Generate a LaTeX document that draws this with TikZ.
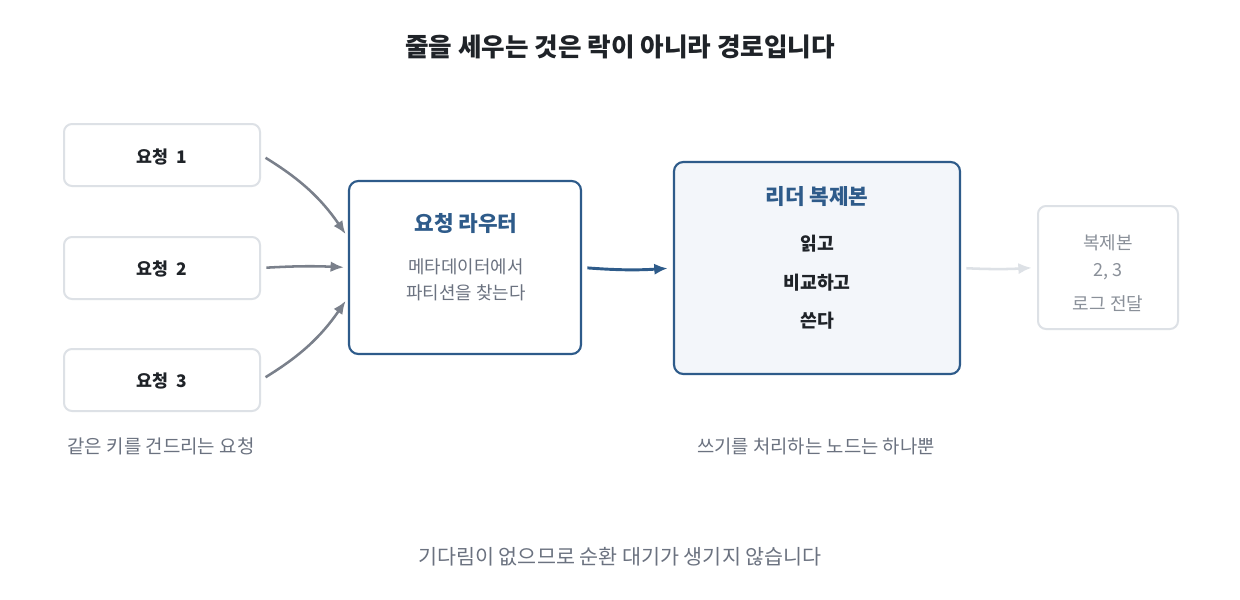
\documentclass[tikz,border=0pt]{standalone}
\usepackage{fontspec}
\setmainfont{Noto Sans CJK KR}
\usepackage{tikz}
\usetikzlibrary{arrows.meta}

\definecolor{routeblue}{RGB}{46,91,138}
\definecolor{arrowgray}{RGB}{122,128,139}
\definecolor{textgray}{RGB}{107,114,128}
\definecolor{palegray}{RGB}{221,225,230}
\definecolor{leaderfill}{RGB}{243,246,250}
\definecolor{replicagray}{RGB}{138,144,153}
\definecolor{darktext}{RGB}{31,35,40}

\tikzset{
 reqbox/.style={draw=palegray,line width=1.5pt,rounded corners=6pt,fill=white,
   minimum width=147pt,minimum height=46.5pt,inner sep=0pt},
 mainbox/.style={draw=routeblue,line width=1.6pt,rounded corners=7pt,inner sep=0pt},
 reqarrow/.style={-{Latex[length=10pt,width=8pt]},draw=arrowgray,line width=1.9pt,
   shorten <=4pt,shorten >=3pt},
}

\begin{document}
\begin{tikzpicture}[x=0.75pt,y=-0.75pt]
 \useasboundingbox[fill=white] (0,0) rectangle (1240,600);

 % titel
 \node[font=\fontsize{19.2}{22}\selectfont\bfseries,text=darktext] (title) at (620,47) {줄을 세우는 것은 락이 아니라 경로입니다};

 % anfragen
 \node[reqbox] (req1) at (162,155) {};
 \node[reqbox] (req2) at (162,268) {};
 \node[reqbox] (req3) at (162,380) {};
 \node[font=\fontsize{13}{15}\selectfont\bfseries,text=darktext] (lab1) at (162,157) {요청\ \ 1};
 \node[font=\fontsize{13}{15}\selectfont\bfseries,text=darktext] (lab2) at (162,269) {요청\ \ 2};
 \node[font=\fontsize{13}{15}\selectfont\bfseries,text=darktext] (lab3) at (162,381) {요청\ \ 3};
 \node[font=\fontsize{14.2}{16}\selectfont,text=textgray] (reqcap) at (161,446) {같은 키를 건드리는 요청};

 % router
 \node[mainbox,fill=white,minimum width=174pt,minimum height=129.75pt] (router) at (465,267.5) {};
 \node[font=\fontsize{16}{18}\selectfont\bfseries,text=routeblue] (routertitle) at (466,224) {요청 라우터};
 \node[font=\fontsize{13.4}{15}\selectfont,text=textgray] (routerl1) at (466,267) {메타데이터에서};
 \node[font=\fontsize{13.4}{15}\selectfont,text=textgray] (routerl2) at (466,293) {파티션을 찾는다};

 % leader
 \node[mainbox,fill=leaderfill,minimum width=214.5pt,minimum height=159pt] (leader) at (817,268) {};
 \node[font=\fontsize{16}{18}\selectfont\bfseries,text=routeblue] (leadertitle) at (817,197) {리더 복제본};
 \node[font=\fontsize{13.7}{15}\selectfont\bfseries,text=darktext] (read) at (817,244) {읽고};
 \node[font=\fontsize{13.7}{15}\selectfont\bfseries,text=darktext] (compare) at (817,283) {비교하고};
 \node[font=\fontsize{13.7}{15}\selectfont\bfseries,text=darktext] (write) at (817,321) {쓴다};
 \node[font=\fontsize{14.1}{16}\selectfont,text=textgray] (leadercap) at (816,446) {쓰기를 처리하는 노드는 하나뿐};

 % replikas
 \node[reqbox,minimum width=105pt,minimum height=92.25pt] (replica) at (1108,267.5) {};
 \node[font=\fontsize{13.5}{15}\selectfont,text=replicagray] (rep1) at (1108,243) {복제본};
 \node[font=\fontsize{13.5}{15}\selectfont,text=replicagray] (rep2) at (1108,272) {2, 3};
 \node[font=\fontsize{13.5}{15}\selectfont,text=replicagray] (rep3) at (1108,304) {로그 전달};

 \draw[reqarrow] (req1.east) to[bend left=12] ([yshift=22.5pt]router.west);
 \draw[reqarrow] (req2.east) to[bend left=3] (router.west);
 \draw[reqarrow] (req3.east) to[bend right=12] ([yshift=-22.5pt]router.west);
 \draw[-{Latex[length=10pt,width=8.5pt]},draw=routeblue,line width=2.2pt,shorten <=4pt,shorten >=4pt]
   (router.east) to[bend right=4] (leader.west);
 \draw[-{Latex[length=10pt,width=8.5pt]},draw=palegray,line width=1.9pt,shorten <=4pt,shorten >=4pt]
   (leader.east) to[bend right=3] (replica.west);

 \node[font=\fontsize{15.5}{18}\selectfont,text=textgray] (footer) at (620,557) {기다림이 없으므로 순환 대기가 생기지 않습니다};
\end{tikzpicture}
\end{document}
